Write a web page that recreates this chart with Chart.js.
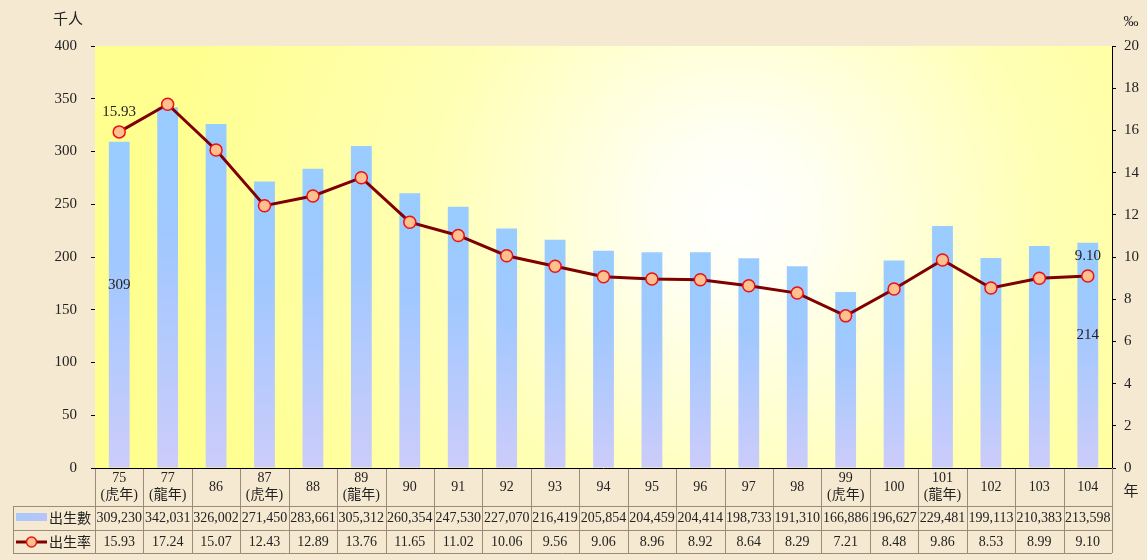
<!DOCTYPE html>
<html>
<head>
<meta charset="utf-8">
<script src="https://cdn.jsdelivr.net/npm/chart.js@4"></script>
<style>
  body { margin: 0; background: #f6e9d1; }
  canvas { display: block; }
</style>
</head>
<body>
<canvas id="birthChart" width="1147" height="560"></canvas>
<script>
// 年別 (民國)
const years = ['75', '77', '86', '87', '88', '89', '90', '91', '92', '93', '94',
               '95', '96', '97', '98', '99', '100', '101', '102', '103', '104'];
// 生肖註記
const notes = ['(虎年)', '(龍年)', '', '(虎年)', '', '(龍年)', '', '', '', '', '',
               '', '', '', '', '(虎年)', '', '(龍年)', '', '', ''];
// 出生數 (人)
const births = [309230, 342031, 326002, 271450, 283661, 305312, 260354, 247530, 227070, 216419, 205854,
                204459, 204414, 198733, 191310, 166886, 196627, 229481, 199113, 210383, 213598];
// 出生率 (‰)
const rates = [15.93, 17.24, 15.07, 12.43, 12.89, 13.76, 11.65, 11.02, 10.06, 9.56, 9.06,
               8.96, 8.92, 8.64, 8.29, 7.21, 8.48, 9.86, 8.53, 8.99, 9.10];

const serif = '"Liberation Serif", "Times New Roman", serif';
const cjk = '"Liberation Serif", "Noto Sans CJK TC", sans-serif';
const lineColor = '#800000';
const gridColor = '#9a8c78';

// bars drawn in thousands
const birthsK = births.map(v => v / 1000);

// gradient for each bar, top blue -> bottom lavender
function barFill(ctx) {
    const chart = ctx.chart;
    if (!chart.chartArea || ctx.parsed === undefined) return '#a8c8ff';
    const ys = chart.scales.y;
    const top = ys.getPixelForValue(ctx.parsed.y);
    const bottom = ys.getPixelForValue(0);
    const g = chart.ctx.createLinearGradient(0, top, 0, bottom);
    g.addColorStop(0, '#99ccff');
    g.addColorStop(0.35, '#a0c8ff');
    g.addColorStop(1, '#ccccfa');
    return g;
}

// yellow plot background with white glow
const backdrop = {
    id: 'backdrop',
    beforeDatasetsDraw(chart) {
        const { ctx, chartArea: a } = chart;
        ctx.save();
        const g = ctx.createRadialGradient(735, 215, 0, 735, 215, 560);
        g.addColorStop(0, '#ffffff');
        g.addColorStop(0.15, '#fffff2');
        g.addColorStop(0.55, '#ffffb4');
        g.addColorStop(1, '#ffff90');
        ctx.fillStyle = g;
        ctx.fillRect(a.left, a.top, a.right - a.left, a.bottom - a.top);
        ctx.restore();
    }
};

// data table under the chart + extra texts
const dataTable = {
    id: 'dataTable',
    afterDraw(chart) {
        const { ctx, chartArea: a, scales } = chart;
        const xs = scales.x;
        const n = years.length;
        const cw = (a.right - a.left) / n;
        const r0 = a.bottom, r1 = 506, r2 = 530, r3 = 553;
        const tLeft = 13;
        ctx.save();

        // grid
        ctx.strokeStyle = gridColor;
        ctx.lineWidth = 1;
        ctx.beginPath();
        [r1, r2, r3].forEach(y => {
            ctx.moveTo(tLeft, y + 0.5);
            ctx.lineTo(a.right, y + 0.5);
        });
        ctx.moveTo(tLeft + 0.5, r1);
        ctx.lineTo(tLeft + 0.5, r3);
        for (let i = 0; i <= n; i++) {
            const x = Math.round(a.left + i * cw) + 0.5;
            ctx.moveTo(x, r0);
            ctx.lineTo(x, r3);
        }
        ctx.stroke();

        // axis base line
        ctx.strokeStyle = '#000';
        ctx.beginPath();
        ctx.moveTo(a.left, r0 + 0.5);
        ctx.lineTo(a.right, r0 + 0.5);
        ctx.stroke();

        // category labels
        ctx.fillStyle = '#222';
        ctx.textAlign = 'center';
        ctx.textBaseline = 'middle';
        years.forEach((yr, i) => {
            const x = xs.getPixelForValue(i);
            if (notes[i]) {
                ctx.font = '14px ' + serif;
                ctx.fillText(yr, x, 478);
                ctx.font = '14px ' + cjk;
                ctx.fillText(notes[i], x, 495);
            } else {
                ctx.font = '14px ' + serif;
                ctx.fillText(yr, x, 487);
            }
            ctx.font = '14px ' + serif;
            ctx.fillText(births[i].toLocaleString('en-US'), x, 518);
            ctx.fillText(rates[i].toFixed(2), x, 542);
        });

        // legend cells
        const lg = ctx.createLinearGradient(16, 0, 46, 0);
        lg.addColorStop(0, '#a8c8f8');
        lg.addColorStop(1, '#b8c4fa');
        ctx.fillStyle = lg;
        ctx.fillRect(16, 513, 31, 8);
        ctx.strokeStyle = lineColor;
        ctx.lineWidth = 3;
        ctx.beginPath();
        ctx.moveTo(16, 542);
        ctx.lineTo(47, 542);
        ctx.stroke();
        ctx.beginPath();
        ctx.arc(31.5, 542, 5, 0, Math.PI * 2);
        ctx.fillStyle = '#ffc090';
        ctx.fill();
        ctx.strokeStyle = '#ee1111';
        ctx.lineWidth = 1.5;
        ctx.stroke();
        ctx.fillStyle = '#222';
        ctx.font = '14px "Noto Sans CJK TC", sans-serif';
        ctx.textAlign = 'left';
        ctx.fillText('出生數', 49, 518);
        ctx.fillText('出生率', 49, 542);

        // unit labels
        ctx.textAlign = 'center';
        ctx.font = '15px "Noto Sans CJK TC", sans-serif';
        ctx.fillText('千人', 68, 18);
        ctx.fillText('年', 1131, 490);
        ctx.font = '15px ' + serif;
        ctx.fillText('‰', 1131, 22);

        // value labels for first and last year
        const ys = scales.y, y1 = scales.y1;
        ctx.font = '15px ' + serif;
        [0, n - 1].forEach(i => {
            const x = xs.getPixelForValue(i);
            ctx.fillText(rates[i].toFixed(2), x, y1.getPixelForValue(rates[i]) - 20);
            const mid = (ys.getPixelForValue(birthsK[i]) + ys.getPixelForValue(0)) / 2;
            ctx.fillText(String(Math.round(birthsK[i])), x, mid - 20);
        });
        ctx.restore();
    }
};

new Chart(document.getElementById('birthChart'), {
    type: 'bar',
    data: {
        labels: years,
        datasets: [
            {
                type: 'line',
                label: '出生率',
                data: rates,
                yAxisID: 'y1',
                borderColor: lineColor,
                borderWidth: 3,
                pointRadius: 6,
                pointHoverRadius: 6,
                pointBackgroundColor: '#ffc090',
                pointBorderColor: '#ee1111',
                pointBorderWidth: 1.5,
                tension: 0,
                order: 1
            },
            {
                label: '出生數',
                data: birthsK,
                yAxisID: 'y',
                backgroundColor: barFill,
                barPercentage: 0.43,
                categoryPercentage: 1,
                order: 2
            }
        ]
    },
    options: {
        responsive: false,
        animation: false,
        devicePixelRatio: 1,
        layout: { padding: { top: 46, bottom: 92, left: 0, right: 0 } },
        plugins: {
            legend: { display: false },
            tooltip: { enabled: false }
        },
        scales: {
            x: { display: false },
            y: {
                position: 'left',
                min: 0,
                max: 400,
                ticks: { stepSize: 50, color: '#222', padding: 14, font: { family: serif, size: 15 } },
                grid: { drawOnChartArea: false, tickLength: 4, color: '#000' },
                border: { display: true, color: '#000' },
                afterFit(scale) { scale.width = 95; }
            },
            y1: {
                position: 'right',
                min: 0,
                max: 20,
                ticks: { stepSize: 2, color: '#222', padding: 8, font: { family: serif, size: 15 } },
                grid: { drawOnChartArea: false, tickLength: 4, color: '#000' },
                border: { display: true, color: '#000' },
                afterFit(scale) { scale.width = 35; }
            }
        }
    },
    plugins: [backdrop, dataTable]
});
</script>
</body>
</html>
